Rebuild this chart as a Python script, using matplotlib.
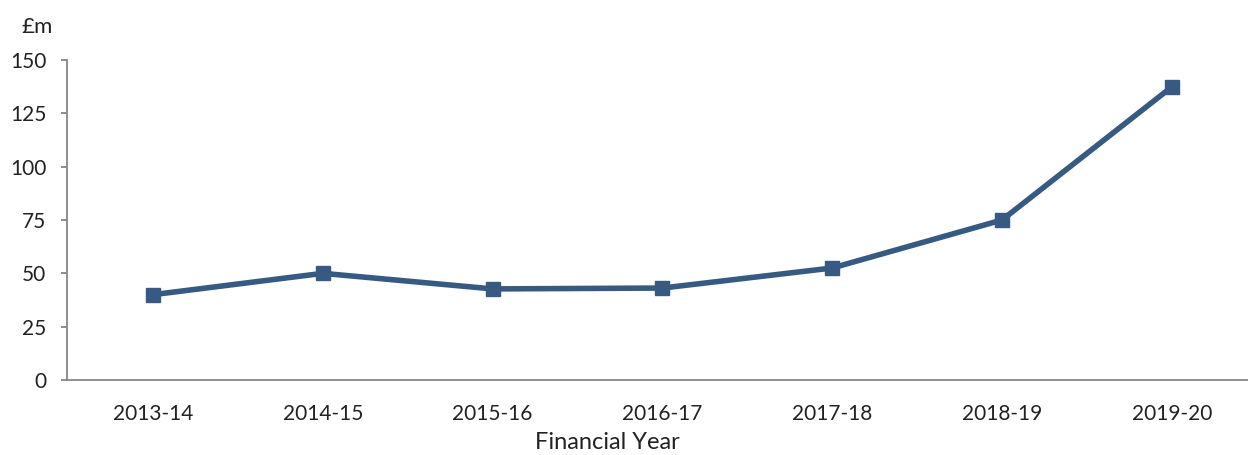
import matplotlib
matplotlib.use("Agg")
import matplotlib.pyplot as plt

years = ["2013-14", "2014-15", "2015-16", "2016-17", "2017-18", "2018-19", "2019-20"]
spend = [40, 50, 42.7, 43.1, 52.5, 75, 137.4]
yticks = [0, 25, 50, 75, 100, 125, 150]

plt.rcParams['font.family'] = ['Lato', 'DejaVu Sans']

W, H = 1248, 455
fig = plt.figure(figsize=(W / 100, H / 100), dpi=100)
ax = fig.add_axes([67 / W, 1 - 380 / H, (W - 67) / W, 320 / H])

x = list(range(len(years)))
ax.plot(x, spend, color='#375A82', linewidth=4, marker='s', markersize=10.5,
        solid_joinstyle='round', clip_on=False, zorder=3)

ax.set_ylim(0, 150)
ax.set_xlim((67 - 153) / 169.8, (W - 153) / 169.8)
ax.set_yticks(yticks)
ax.set_xticks(x)
ax.set_xticklabels(years)

for s in ['top', 'right']:
    ax.spines[s].set_visible(False)
for s in ['left', 'bottom']:
    ax.spines[s].set_color('#868686')
    ax.spines[s].set_linewidth(1.3)

ax.tick_params(axis='y', length=4, width=1.3, color='#868686', pad=11,
               labelsize=15, labelcolor='#222222')
ax.tick_params(axis='x', length=0, pad=17, labelsize=15, labelcolor='#222222')

fig.text(37 / W, 1 - 27 / H, "£m", ha='center', va='center', fontsize=16, color='#222222')
fig.text(607 / W, 2 / H, "Financial Year", ha='center', va='bottom',
         fontsize=17, color='#222222')

fig.savefig("out.png", dpi=100)
